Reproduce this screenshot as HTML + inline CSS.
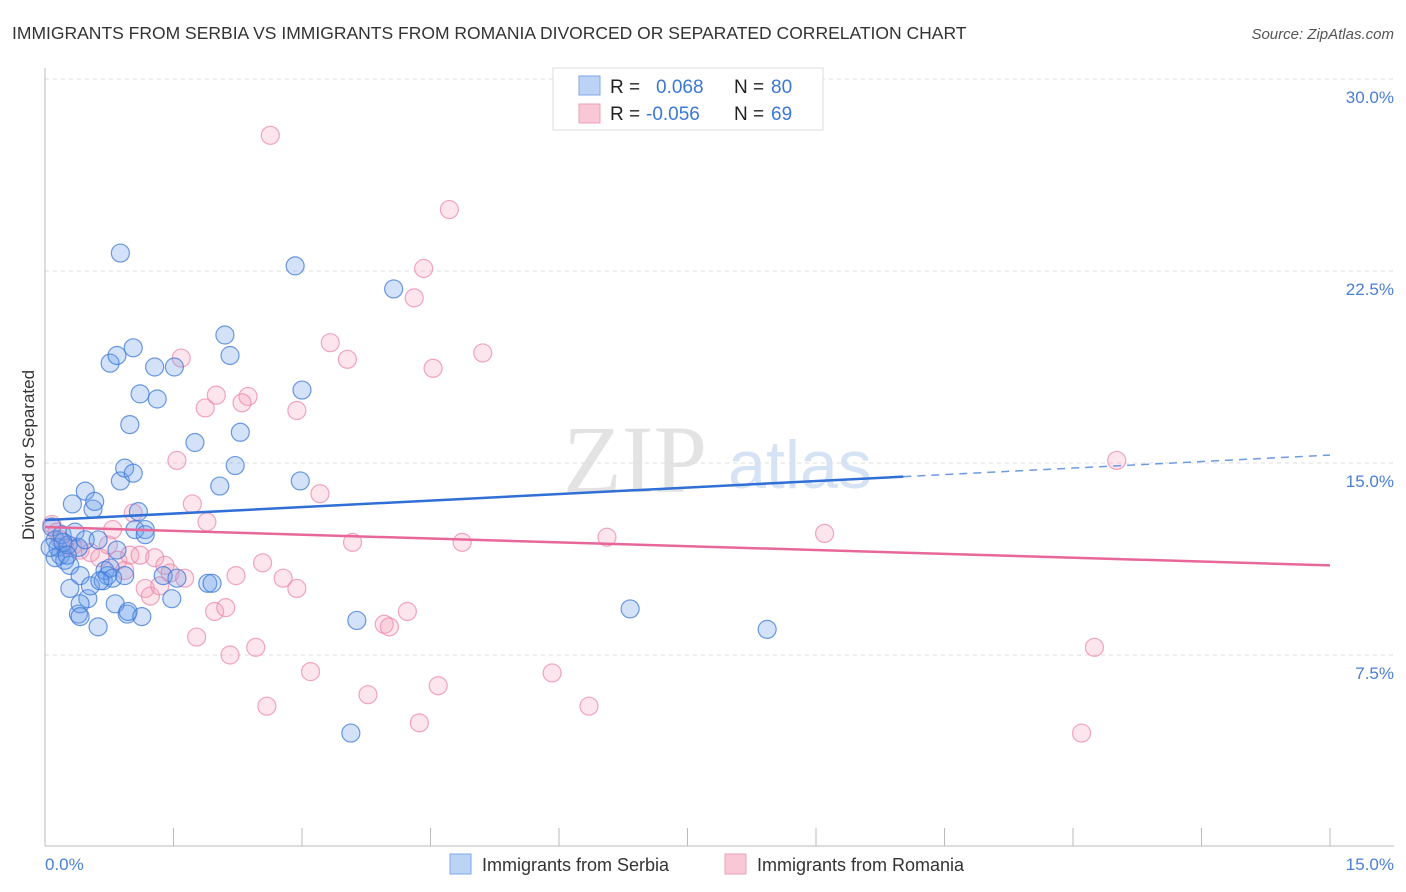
<!DOCTYPE html>
<html><head><meta charset="utf-8"><style>
body{margin:0;background:#fff;font-family:"Liberation Sans",sans-serif}
svg{display:block}
</style></head><body>
<svg width="1406" height="892" viewBox="0 0 1406 892">
<text x="12" y="39" font-size="17.5" fill="#333">IMMIGRANTS FROM SERBIA VS IMMIGRANTS FROM ROMANIA DIVORCED OR SEPARATED CORRELATION CHART</text>
<text x="1394" y="39" font-size="15" fill="#555" font-style="italic" text-anchor="end">Source: ZipAtlas.com</text>
<g>
<text x="635" y="492" font-size="96" font-family="Liberation Serif,serif" fill="#e3e3e3" text-anchor="middle">ZIP</text>
<text x="800" y="488" font-size="68" fill="#d6e3f5" text-anchor="middle">atlas</text>
</g>
<g id="grid"></g>
<g id="axes"></g>
<g id="pts"></g>
<g id="trends"></g>
<text transform="translate(34,455) rotate(-90)" font-size="17" fill="#333" text-anchor="middle">Divorced or Separated</text>
<text x="45" y="870" font-size="17" fill="#4a7fd4">0.0%</text>
<text x="1394" y="870" font-size="17" fill="#4a7fd4" text-anchor="end">15.0%</text>
<g>
<rect x="553" y="68" width="270" height="62" fill="#fff" stroke="#ddd"/>
<rect x="579" y="76" width="21" height="19" fill="#bcd3f5" stroke="#7fa8e8"/>
<rect x="579" y="104" width="21" height="19" fill="#f9c8d6" stroke="#f0a0bb"/>
<text x="610" y="93" font-size="19" fill="#222">R = </text><text x="656" y="93" font-size="19" fill="#3b78d6">0.068</text>
<text x="734" y="93" font-size="19" fill="#222">N = </text><text x="771" y="93" font-size="19" fill="#3b78d6">80</text>
<text x="610" y="120" font-size="19" fill="#222">R = </text><text x="646" y="120" font-size="19" fill="#3b78d6">-0.056</text>
<text x="734" y="120" font-size="19" fill="#222">N = </text><text x="771" y="120" font-size="19" fill="#3b78d6">69</text>
</g>
<g>
<rect x="450" y="854" width="21" height="20" fill="#bcd3f5" stroke="#7fa8e8"/>
<text x="482" y="871" font-size="18" fill="#333">Immigrants from Serbia</text>
<rect x="725" y="854" width="21" height="20" fill="#f9c8d6" stroke="#f0a0bb"/>
<text x="757" y="871" font-size="18" fill="#333">Immigrants from Romania</text>
</g>
</svg>
<script>
const yTicks=[7.5,15,22.5,30];
const yTickLabels=["7.5%","15.0%","22.5%","30.0%"];
const xTicks=[0,1.5,3,4.5,6,7.5,9,10.5,12,13.5,15];
const serbiaX=[0.08,0.12,0.15,0.18,0.2,0.23,0.12,0.27,0.29,0.32,0.35,0.39,0.41,0.47,0.47,0.5,0.53,0.56,0.58,0.62,0.62,0.39,0.41,0.29,0.68,0.7,0.73,0.76,0.79,0.82,0.84,0.88,0.88,0.93,0.96,0.97,0.99,1.03,1.03,1.09,1.11,1.13,1.05,0.76,0.84,1.17,1.17,1.28,1.31,1.38,1.48,1.51,1.54,1.75,1.9,1.95,2.04,2.1,2.16,2.22,2.28,2.92,2.98,3.0,3.57,3.64,4.07,6.83,8.43,0.06,0.21,0.26,0.64,0.93,0.41];
const serbiaY=[12.5,12.0,11.7,11.4,12.2,11.2,11.3,11.8,11.0,13.4,12.3,11.7,10.6,13.9,12.0,9.7,10.2,13.2,13.5,8.6,12.0,9.1,9.5,10.1,10.4,10.8,10.6,10.9,10.5,9.5,11.6,23.2,14.3,14.8,9.1,9.2,16.5,14.6,19.5,13.1,17.7,9.0,12.4,18.9,19.2,12.4,12.2,18.75,17.5,10.6,9.7,18.75,10.5,15.8,10.3,10.3,14.1,20.0,19.2,14.9,16.2,22.7,14.3,17.85,4.45,8.85,21.8,9.3,8.5,11.7,11.9,11.4,10.4,10.6,9.0];
const romaniaX=[2.63,4.72,4.42,4.31,3.33,3.53,5.11,1.59,4.53,2.37,2.3,2.0,1.87,2.94,1.54,12.51,3.21,1.72,1.03,1.89,9.1,6.56,3.59,4.87,0.08,0.14,0.18,0.23,0.32,0.41,0.53,0.64,0.74,0.79,0.85,0.93,0.99,1.11,1.28,1.4,1.46,1.17,1.23,1.34,1.63,2.23,2.54,2.78,2.94,1.98,2.11,1.77,2.16,2.46,3.1,3.77,2.59,4.59,4.37,3.96,4.02,4.23,5.92,6.35,12.25,12.1];
const romaniaY=[27.8,24.9,22.6,21.45,19.7,19.05,19.3,19.1,18.7,17.6,17.35,17.65,17.15,17.05,15.1,15.1,13.8,13.4,13.05,12.7,12.25,12.1,11.9,11.9,12.6,12.3,12.0,11.7,11.75,11.6,11.5,11.3,11.8,12.4,11.2,10.8,11.4,11.4,11.3,11.0,10.7,10.1,9.8,10.2,10.5,10.6,11.1,10.5,10.1,9.2,9.35,8.2,7.5,7.8,6.85,5.95,5.5,6.3,4.85,8.7,8.6,9.2,6.8,5.5,7.8,4.45];
const serbiaTrend=[12.77,15.31]; // y at x=0 and x=15
const romaniaTrend=[12.5,11.0];
const serbiaSolidEnd=10.02;
const NS="http://www.w3.org/2000/svg";
const X=v=>45+v/15*1285, Y=v=>847-v/7.5*192;
function mk(tag,at,parent){const e=document.createElementNS(NS,tag);for(const k in at)e.setAttribute(k,at[k]);document.getElementById(parent).appendChild(e);return e;}
yTicks.forEach((t,i)=>{
 const l=mk('line',{x1:45,x2:1394,y1:Y(t),y2:Y(t),stroke:'#ddd','stroke-dasharray':'4,4'},'grid');
 
 
 const tx=mk('text',{x:1394,y:Y(t)+24,'font-size':17,fill:'#4a7fd4','text-anchor':'end'},'grid');
 tx.textContent=yTickLabels[i];
 
 
});
const ya=mk('line',{x1:45,x2:45,y1:68,y2:846,stroke:'#bbb'},'axes');


const xa=mk('line',{x1:45,x2:1394,y1:846,y2:846,stroke:'#bbb'},'axes');


xTicks.forEach(t=>{
 const l=mk('line',{x1:X(t),x2:X(t),y1:828,y2:846,stroke:'#bbb'},'axes');
 
 
});
function pts(xs,ys,fill,stroke,name){xs.forEach((v,i)=>{
 const c=mk('circle',{cx:X(v),cy:Y(ys[i]),r:9,fill:fill,stroke:stroke,'stroke-width':1.2},'pts');
 
 
});}
pts(romaniaX,romaniaY,'rgba(244,160,188,0.28)','rgba(236,130,165,0.7)','romania-point');
pts(serbiaX,serbiaY,'rgba(110,160,235,0.3)','rgba(60,120,215,0.75)','serbia-point');
const sy=x=>serbiaTrend[0]+(serbiaTrend[1]-serbiaTrend[0])*x/15;
const ry=x=>romaniaTrend[0]+(romaniaTrend[1]-romaniaTrend[0])*x/15;
let t=mk('line',{x1:X(0),y1:Y(ry(0)),x2:X(15),y2:Y(ry(15)),stroke:'#e8679a','stroke-width':2.5},'trends');


t=mk('line',{x1:X(0),y1:Y(sy(0)),x2:X(serbiaSolidEnd),y2:Y(sy(serbiaSolidEnd)),stroke:'#2f6fd6','stroke-width':2.5},'trends');


t=mk('line',{x1:X(serbiaSolidEnd),y1:Y(sy(serbiaSolidEnd)),x2:X(15),y2:Y(sy(15)),stroke:'#6d9be0','stroke-width':1.5,'stroke-dasharray':'8,6'},'trends');


</script>
</body></html>
